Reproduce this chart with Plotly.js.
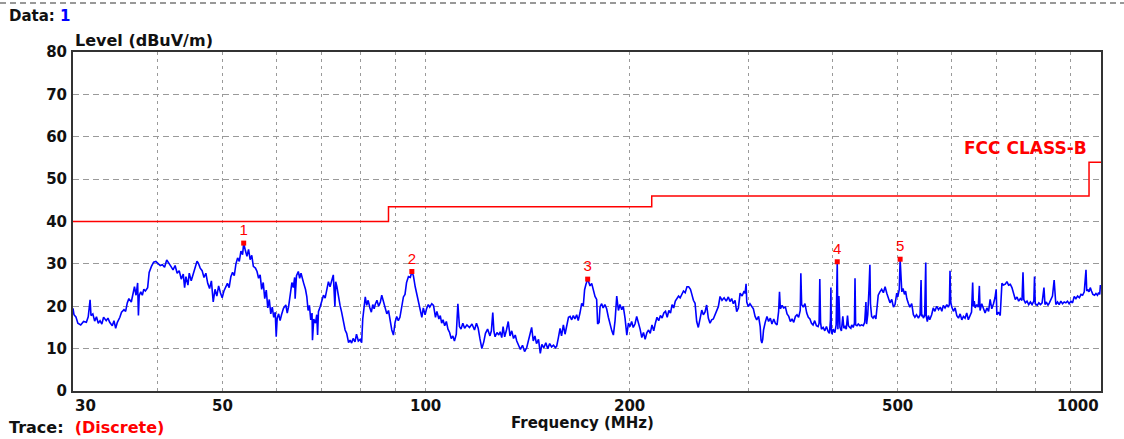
<!DOCTYPE html>
<html>
<head>
<meta charset="utf-8">
<script src="https://cdn.plot.ly/plotly-3.0.1.min.js"></script>
<style>
html,body{margin:0;padding:0;background:#fff;}
#chart{width:1124px;height:439px;}
</style>
</head>
<body>
<div id="chart"></div>
<script>
// ---- Measured trace (frequency in MHz, level in dBuV/m) ----
const freqMHz = [
30.0,30.1,30.3,30.5,30.8,31.1,31.4,31.6,31.8,31.9,
32.1,32.3,32.5,32.7,32.9,33.1,33.3,33.6,33.8,34.0,
34.3,34.5,34.7,34.9,35.2,35.4,35.7,35.9,36.1,36.3,
36.6,36.8,37.0,37.2,37.4,37.5,37.6,37.8,38.0,38.2,
38.4,38.7,38.9,39.2,39.5,39.8,40.1,40.4,40.7,41.0,
41.3,41.6,41.9,42.2,42.5,42.8,43.1,43.4,43.7,43.9,
44.1,44.4,44.6,44.9,45.2,45.5,45.8,46.0,46.3,46.6,
46.9,47.2,47.5,47.8,48.1,48.4,48.7,49.0,49.3,49.6,
49.9,50.2,50.5,50.8,51.1,51.4,51.7,52.0,52.3,52.6,
52.9,53.2,53.5,53.7,54.0,54.3,54.6,54.9,55.2,55.5,
55.9,56.2,56.5,56.8,57.1,57.4,57.7,58.0,58.3,58.6,
58.9,59.2,59.5,59.8,60.0,60.2,60.5,60.8,
61.1,61.5,62.0,62.3,62.6,62.9,63.3,63.6,63.9,64.0,
64.3,64.7,65.0,65.3,65.6,65.9,66.3,66.6,66.9,67.2,
67.5,67.8,67.9,68.2,68.6,68.9,69.1,69.3,69.7,70.1,
70.5,70.9,71.3,71.7,72.1,72.5,72.9,73.3,73.5,73.8,
74.2,74.6,75.0,75.4,75.9,76.3,76.8,77.2,77.6,78.0,
78.5,78.9,79.4,79.9,80.3,80.6,81.0,81.3,81.7,82.1,
82.6,83.0,83.4,83.8,84.1,84.6,85.1,85.6,86.0,86.5,
87.0,87.5,88.0,88.5,89.0,89.5,90.0,90.5,91.0,91.5,
92.1,92.6,93.1,93.6,94.2,94.8,95.3,95.8,96.4,97.0,
97.4,98.0,98.6,99.1,99.7,100.2,100.8,101.3,102.0,102.6,
103.3,103.8,104.5,105.0,105.5,106.0,106.6,107.2,107.8,108.4,
109.0,109.6,110.2,110.9,111.5,112.1,112.7,113.4,114.1,115.0,
116.0,117.0,118.0,118.8,119.5,120.2,121.0,121.8,
122.5,123.4,124.4,125.0,125.6,126.1,126.6,127.4,128.2,128.8,
129.5,130.1,130.8,131.6,132.4,133.2,134.0,134.8,135.6,136.3,
137.1,138.0,139.0,140.0,141.0,141.8,142.6,143.4,144.2,145.0,
145.8,146.8,147.7,148.5,149.5,150.5,151.5,152.5,153.5,154.5,
155.5,156.2,157.1,158.0,158.8,159.8,160.7,161.6,162.6,163.5,
164.4,165.3,166.2,167.2,168.1,169.1,170.1,171.0,171.8,172.6,
173.6,174.3,175.0,176.0,177.0,178.0,179.0,179.6,180.5,181.1,
182.1,183.0,184.1,185.2,186.3,187.4,188.5,189.5,190.6,191.7,
192.8,193.8,195.0,196.0,197.2,198.4,199.5,200.6,201.7,202.8,
204.0,205.2,206.4,207.6,208.8,210.0,211.2,212.5,213.7,214.9,
216.2,217.5,218.7,219.9,221.2,222.5,223.8,225.1,226.4,227.7,
229.0,230.3,231.5,232.8,234.1,235.4,236.7,238.0,239.3,240.7,
242.1,243.6,
245.0,246.5,247.4,249.0,250.4,251.2,251.8,253.2,254.6,256.2,
257.6,259.0,260.5,262.0,263.5,265.0,266.5,268.1,269.6,271.1,
272.7,274.5,276.5,278.5,280.5,282.1,283.7,285.3,287.0,288.6,
290.3,292.0,294.0,296.0,297.0,298.0,298.7,300.3,302.0,303.8,
305.5,307.3,309.0,311.0,312.7,313.6,314.5,315.4,316.3,318.1,
320.0,321.8,323.7,325.5,327.5,329.3,331.2,333.0,334.0,335.0,
336.9,338.8,340.8,342.7,344.7,346.6,348.6,350.6,352.6,354.5,
356.5,358.5,359.2,360.2,362.2,364.3,366.5,368.5,370.5,372.5,
374.5,376.6,378.8,381.0,382.3,383.2,384.2,385.4,387.6,389.8,
392.0,394.3,396.0,397.4,398.0,398.6,399.5,401.1,403.4,405.2,
406.7,407.6,409.0,410.5,412.5,414.5,416.0,417.6,419.4,421.2,
422.5,424.5,426.0,427.3,429.4,431.3,432.1,433.0,435.0,437.0,
439.5,442.0,444.5,446.6,448.5,449.5,451.3,453.2,454.6,455.5,
457.3,459.5,461.8,464.0,465.7,467.7,470.4,473.2,476.0,478.8,
481.7,484.2,486.8,489.8,492.7,
495.3,497.0,498.2,500.0,502.5,504.0,505.5,506.9,509.0,511.5,
513.5,515.6,518.3,521.0,524.3,527.3,530.0,533.0,536.4,539.5,
541.3,542.5,544.0,545.5,548.0,550.0,551.0,553.0,554.9,557.5,
561.2,564.3,567.5,571.0,574.5,578.0,581.0,584.0,587.4,591.0,
594.0,596.2,597.5,599.0,601.1,604.5,608.0,611.5,615.0,618.5,
622.0,625.5,629.0,632.5,636.0,639.6,643.0,645.5,647.0,649.0,
651.0,654.5,658.0,660.4,662.0,665.8,669.5,673.5,677.5,681.5,
685.1,689.0,693.0,696.5,699.4,701.0,705.0,709.1,713.2,717.2,
721.4,725.5,729.6,733.9,738.0,742.3,746.6,750.9,755.2,759.5,
763.8,766.4,768.5,772.6,777.0,781.5,786.0,790.5,795.2,797.1,
799.0,804.5,809.0,813.5,818.0,823.2,826.0,830.0,834.5,838.5,
842.6,847.5,852.3,854.5,857.2,862.1,867.0,872.0,877.0,882.0,
887.0,892.0,897.0,902.4,907.5,912.7,918.0,923.3,929.0,934.0,
939.3,944.5,950.1,952.5,955.7,960.0,964.0,968.0,972.6,978.3,
983.0,988.0,992.0,995.6,998.0,1000.0
];
const levelDb = [
19.5,18.0,17.5,16.0,15.6,16.4,16.2,17.5,21.5,17.8,
18.2,16.5,17.5,16.0,16.6,15.8,17.4,16.6,17.2,16.2,
15.4,16.6,14.8,16.2,17.4,18.6,19.2,18.8,20.8,21.8,
21.0,23.0,24.6,22.6,25.5,17.8,22.5,23.4,22.6,24.0,
23.6,24.4,28.0,29.4,30.4,30.6,30.0,29.6,29.8,29.2,
30.9,30.0,29.4,28.6,29.6,27.8,28.4,26.4,27.6,24.4,
27.0,25.0,27.8,26.0,27.6,29.2,30.6,30.2,29.0,28.4,
26.8,27.8,25.4,24.2,26.0,21.0,24.0,22.4,24.8,23.2,
22.0,23.6,24.6,25.4,24.4,27.0,28.0,27.2,30.0,31.4,
30.6,33.0,32.2,34.9,33.2,31.8,33.4,31.0,32.0,29.4,
29.0,28.2,26.6,27.4,24.0,25.6,21.8,23.8,19.6,21.6,
18.2,19.8,17.4,18.6,12.8,17.2,18.2,16.6,
18.0,19.5,20.3,18.4,20.0,23.0,25.6,24.4,26.8,21.8,
27.2,28.2,26.6,27.8,26.4,25.4,24.0,22.3,19.0,20.2,
16.8,18.4,12.0,17.0,16.0,18.0,13.2,18.7,19.9,21.2,
22.6,21.9,24.2,25.8,24.6,26.4,27.4,19.9,25.8,24.6,
22.2,20.2,18.6,16.4,14.4,13.6,11.4,12.0,11.3,12.4,
11.6,13.4,11.8,12.2,11.4,17.0,21.0,22.2,20.2,21.4,
19.6,18.6,20.4,19.4,20.4,21.4,20.0,21.0,22.6,21.2,
19.8,18.2,19.0,16.4,14.4,13.2,16.2,17.6,16.6,17.4,
20.4,22.2,22.8,25.6,27.0,26.8,28.2,27.2,24.6,22.4,
21.0,19.2,17.4,19.6,18.0,19.4,20.4,19.8,20.6,20.2,
17.4,18.8,17.0,17.8,16.0,16.8,15.4,16.4,14.6,13.8,
12.4,13.0,11.8,13.4,20.6,15.2,14.6,16.0,14.8,15.6,
15.0,15.8,14.4,16.0,14.8,12.4,10.0,11.6,
13.6,14.6,13.0,14.2,18.5,14.0,12.8,13.8,13.2,14.0,
12.6,15.2,12.8,14.4,16.4,13.0,14.2,12.4,13.2,11.8,
10.6,9.8,10.8,9.3,10.2,12.0,13.6,15.0,11.8,13.0,
11.2,12.2,8.9,11.0,10.2,11.4,10.0,11.2,10.4,10.8,
10.2,10.6,12.6,14.8,13.0,15.6,13.4,15.2,17.4,17.6,
16.8,17.8,17.0,18.0,16.6,18.4,20.7,20.0,23.9,25.2,
26.4,25.6,24.8,25.4,23.6,22.3,21.6,15.8,16.2,19.9,
20.6,19.6,20.4,19.4,17.4,15.6,14.2,13.2,16.6,22.4,
19.0,20.4,19.2,20.0,17.2,13.2,16.0,15.2,16.4,15.0,
15.8,17.6,16.2,14.6,12.6,13.8,12.2,13.8,14.4,13.6,
15.6,14.2,16.0,17.4,16.6,17.8,17.2,18.4,18.8,17.4,
19.0,18.4,20.4,19.6,21.2,21.8,22.4,22.0,23.0,23.6,
23.2,24.6,
24.6,24.0,23.1,21.4,20.7,18.0,16.4,15.0,16.8,19.1,
18.0,18.6,20.3,17.2,16.0,16.8,17.0,18.2,19.2,19.9,
22.3,21.4,22.0,21.2,22.2,21.1,21.8,20.6,21.4,18.7,
19.6,23.1,22.4,23.6,23.0,25.3,21.0,19.9,20.6,20.0,
19.4,17.6,16.8,17.6,15.2,12.0,11.3,12.2,14.4,16.2,
17.6,16.4,17.2,15.8,17.0,16.0,15.6,18.8,23.4,19.4,
20.2,19.6,19.8,18.2,17.6,16.4,17.0,16.2,17.6,18.0,
17.4,19.0,27.8,20.4,19.8,20.6,18.4,17.4,17.0,16.0,
15.6,16.6,15.4,15.2,16.0,26.4,16.2,14.6,15.0,14.2,
15.2,14.0,13.6,16.8,24.4,14.4,13.4,14.6,13.8,15.6,
30.5,14.6,22.4,15.0,14.2,17.6,14.8,15.2,14.6,17.8,
15.4,15.0,14.8,15.6,15.0,16.0,26.6,15.6,15.4,15.8,
15.4,15.6,15.4,16.2,21.0,15.8,18.0,24.0,29.8,20.6,
17.6,17.2,17.8,17.0,19.2,22.6,23.4,24.0,23.2,24.6,
23.0,21.8,20.8,21.6,19.8,
20.4,21.8,23.1,22.2,24.0,31.1,24.6,23.4,24.2,22.8,
23.6,21.8,20.7,19.8,20.6,18.0,17.4,18.0,17.2,18.0,
26.2,17.6,18.0,17.2,17.8,30.3,17.6,16.4,17.8,16.8,
18.0,19.6,18.8,20.0,19.2,19.8,18.8,20.2,19.6,20.4,
19.8,20.4,28.4,21.0,19.8,18.8,19.6,17.8,17.2,18.2,
16.8,17.6,17.2,18.4,16.8,17.8,18.6,25.6,20.0,21.2,
19.6,20.4,19.8,24.8,19.0,20.6,19.4,18.4,19.6,18.8,
21.6,19.4,20.6,22.0,24.0,18.0,18.6,17.8,25.4,25.0,
25.2,25.8,25.0,25.2,24.4,22.8,21.6,22.2,21.2,21.8,
21.4,28.0,21.6,20.8,21.2,20.4,21.0,20.4,21.2,27.0,
20.6,20.2,20.8,20.4,20.8,24.4,20.4,21.0,20.2,20.8,
21.4,22.4,26.2,21.8,20.4,21.0,20.4,21.2,20.6,21.0,
20.8,21.2,20.6,21.2,20.8,22.3,21.8,22.4,22.0,22.8,
22.6,23.4,28.6,23.6,24.0,23.4,24.4,23.6,22.8,22.6,
23.0,22.6,23.2,22.8,25.0,24.4
];

// ---- FCC Class B limit ----
const limitFreq  = [30, 88, 216, 960, 1000];
const limitLevel = [40, 43.5, 46, 54, 54];
const limitName  = 'FCC CLASS-B';

// ---- Peak markers ----
const markerFreq  = [53.7, 95.3, 173.6, 406.7, 504.0];
const markerLevel = [34.9, 28.2, 26.4, 30.5, 31.1];
const markerLabel = ['1', '2', '3', '4', '5'];

// ---- Axis ticks ----
const xGridVals  = [30,40,50,60,70,80,90,100,200,300,400,500,600,700,800,900,1000];
const xLabelVals = [30, 50, 100, 200, 500, 1000];
const xLabelText = ['30', '50', '100', '200', '500', '1000'];
const yTickVals  = [0,10,20,30,40,50,60,70,80];

const FONT = 'DejaVu Sans, Verdana, sans-serif';
const BOLD = {family: FONT, size: 15, color: '#111', weight: 'bold'};
const BOLD16 = {family: FONT, size: 16, color: '#111', weight: 'bold'};

const traces = [
  {
    x: freqMHz, y: levelDb, type: 'scatter', mode: 'lines',
    line: {color: '#0000ff', width: 1.6},
    hoverinfo: 'skip'
  },
  {
    x: limitFreq, y: limitLevel, type: 'scatter', mode: 'lines',
    line: {color: '#ff0000', width: 1.5, shape: 'hv'},
    hoverinfo: 'skip'
  },
  {
    x: markerFreq, y: markerLevel, type: 'scatter', mode: 'markers+text',
    text: markerLabel, textposition: 'top center',
    textfont: {family: 'Liberation Sans, Arial, sans-serif', size: 15, color: '#ff0000'},
    marker: {symbol: 'square', size: 5, color: '#ff0000'},
    hoverinfo: 'skip'
  }
];

const tickAnnotations = xLabelVals.map((v, i) => ({
  xref: 'x', yref: 'paper', x: Math.log10(v), y: 0, yshift: -15,
  xanchor: i === 0 ? 'left' : (i === xLabelVals.length - 1 ? 'right' : 'center'),
  yanchor: 'middle', showarrow: false,
  text: '<b>' + xLabelText[i] + '</b>', font: BOLD
}));

const layout = {
  width: 1124, height: 439, autosize: false,
  margin: {l: 73, r: 23, t: 52, b: 48, pad: 0},
  paper_bgcolor: '#ffffff', plot_bgcolor: '#ffffff',
  showlegend: false, hovermode: false,
  font: {family: FONT, color: '#111'},
  xaxis: {
    type: 'log',
    range: [Math.log10(30), Math.log10(1000)],
    tickmode: 'array', tickvals: xGridVals, showticklabels: false,
    ticks: '', showgrid: true, gridcolor: '#9a9a9a', gridwidth: 1, griddash: '3px,4px',
    showline: true, linecolor: '#333', linewidth: 2, mirror: true,
    zeroline: false
  },
  yaxis: {
    range: [0, 80],
    tickmode: 'array', tickvals: yTickVals,
    ticks: '', showgrid: true, gridcolor: '#9a9a9a', gridwidth: 1, griddash: '6px,4px',
    showline: true, linecolor: '#333', linewidth: 2, mirror: true,
    zeroline: false, ticklabelstandoff: 1,
    tickfont: BOLD
  },
  shapes: [
    {type: 'line', xref: 'paper', yref: 'paper',
     x0: -73/1028, x1: 1 + 23/1028, y0: (391-3)/339, y1: (391-3)/339,
     line: {color: '#777', width: 1.5, dash: '6px,4px'}}
  ],
  annotations: tickAnnotations.concat([
    {xref: 'paper', yref: 'paper', x: (582-73)/1028, y: (391-423)/339,
     xanchor: 'center', yanchor: 'middle', showarrow: false,
     text: '<b>Frequency (MHz)</b>', font: BOLD},
    {xref: 'paper', yref: 'paper', x: -66/1028, y: (391-16)/339,
     xanchor: 'left', yanchor: 'middle', showarrow: false,
     text: '<b>Data: <span style="color:#0000ff">1</span></b>',
     font: BOLD},
    {xref: 'paper', yref: 'paper', x: -66/1028, y: (391-439)/339,
     xanchor: 'left', yanchor: 'bottom', showarrow: false,
     text: '<b>Trace:&nbsp;&nbsp;<span style="color:#ff0000">(Discrete)</span></b>',
     font: BOLD16},
    {xref: 'paper', yref: 'paper', x: 0, y: 1,
     xanchor: 'left', yanchor: 'bottom', showarrow: false,
     text: '<b>Level (dBuV/m)</b>', font: BOLD16},
    {xref: 'x', yref: 'y', x: Math.log10(limitFreq[3]), y: limitLevel[3],
     xanchor: 'right', yanchor: 'bottom', showarrow: false, yshift: 2,
     text: '<b>' + limitName + '</b>',
     font: {family: FONT, size: 17, color: '#ff0000', weight: 'bold'}}
  ])
};

Plotly.newPlot('chart', traces, layout, {staticPlot: true, displayModeBar: false});
</script>
</body>
</html>
